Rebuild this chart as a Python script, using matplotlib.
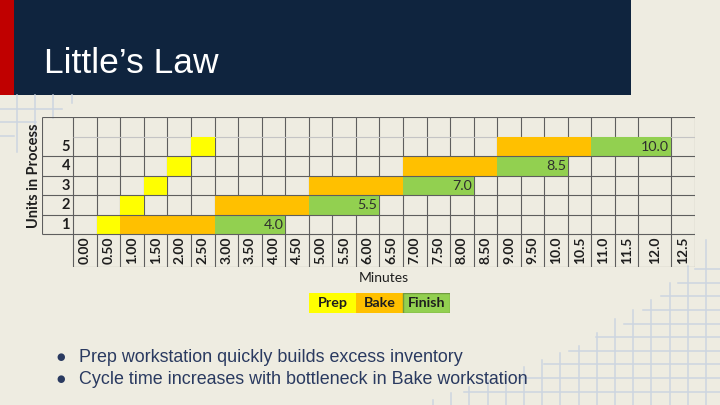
import matplotlib.pyplot as plt
import numpy as np

# chart data
minutes = ["0.00", "0.50", "1.00", "1.50", "2.00", "2.50", "3.00", "3.50", "4.00",
           "4.50", "5.00", "5.50", "6.00", "6.50", "7.00", "7.50", "8.00", "8.50",
           "9.00", "9.50", "10.0", "10.5", "11.0", "11.5", "12.0", "12.5"]
units = [1, 2, 3, 4, 5]
prep_start = [0.5, 1.0, 1.5, 2.0, 2.5]
prep_end = [1.0, 1.5, 2.0, 2.5, 3.0]
bake_start = [1.0, 3.0, 5.0, 7.0, 9.0]
finish_start = [3.0, 5.0, 7.0, 9.0, 11.0]
finish_end = [4.5, 6.5, 8.5, 10.5, 12.5]
cycle_time = [4.0, 5.5, 7.0, 8.5, 10.0]
stages = ["Prep", "Bake", "Finish"]
bullets = ["Prep workstation quickly builds excess inventory",
           "Cycle time increases with bottleneck in Bake workstation"]

BG = '#EEECE1'
NAVY = '#0F243E'
DECO = '#CDD5E0'
GRID = '#5e5e5e'
colors = {'Prep': '#FFFF00', 'Bake': '#FFC000', 'Finish': '#92D050'}
TFONT = 'Lato'

W, H = 720, 405
fig = plt.figure(figsize=(7.2, 4.05), dpi=100, facecolor=BG)

# background layer in pixel units: title band and decoration
bg = fig.add_axes([0, 0, 1, 1], zorder=0)
bg.set_xlim(0, W)
bg.set_ylim(H, 0)
bg.axis('off')
bg.add_patch(plt.Rectangle((0, 0), 14, 95, color='#C00000', lw=0))
bg.add_patch(plt.Rectangle((14, 0), 617, 95, color=NAVY, lw=0))

# top-left grid decoration
for x, y1 in [(16.7, 152), (35, 140), (53, 118), (71.7, 103)]:
    bg.plot([x, x], [95, y1], color=DECO, lw=1.1)
for y, x1 in [(109, 62), (121.5, 36), (135.5, 14)]:
    bg.plot([0, x1], [y, y], color=DECO, lw=1.1)

# bottom-right grid decoration (stepped edge)
vx = [433, 452, 506, 542, 577, 614, 651, 687, 706, 725]
vy = [400, 393, 373, 360, 347, 320, 300, 267, 240, 225]
for x in np.arange(706, 425, -18.2):
    top = np.interp(x, vx, vy)
    bg.plot([x, x], [top, H], color=DECO, lw=1.1)
hy = [255, 268, 296, 323, 349, 377, 392, 405]
hx = [712, 697, 662, 625, 573, 520, 463, 440]
for y in np.arange(391.7, 260, -13.6):
    x0 = np.interp(y, hy, hx)
    bg.plot([x0, W], [y, y], color=DECO, lw=1.1)

fig.text(44 / W, 1 - 73 / H, "Little\u2019s Law", color='white', fontsize=25.5,
         family='Liberation Sans', va='baseline', ha='left')

# table chart
col_w = np.ones(len(minutes))
col_w[24] = 1.4
edges = np.concatenate([[0], np.cumsum(col_w)])
num_w = 1.34
x_right = edges[-1]
y_top = 6.5
y_bot = -1.16

left_px, right_px, top_px, bot_px = 41.7, 695, 117.3, 266.7
ax = fig.add_axes([left_px / W, 1 - bot_px / H, (right_px - left_px) / W,
                   (bot_px - top_px) / H], zorder=1)
ax.set_xlim(-num_w, x_right)
ax.set_ylim(y_bot, y_top)
ax.axis('off')
ax.patch.set_alpha(0)


def to_x(m):
    return np.interp(np.asarray(m) / 0.5, np.arange(len(edges)), edges)


for name, s, e in [('Prep', prep_start, prep_end), ('Bake', bake_start, finish_start),
                   ('Finish', finish_start, finish_end)]:
    ax.barh(units, to_x(e) - to_x(s), left=to_x(s), height=1,
            color=colors[name], lw=0, zorder=2)

# grid lines
ax.vlines(edges, y_bot, y_top, color=GRID, lw=0.8, zorder=1)
ax.vlines(-num_w, 0.5, y_top, color=GRID, lw=0.8, zorder=3)
ax.hlines([y_top] + [u - 0.5 for u in units], -num_w, x_right, color=GRID, lw=0.8, zorder=3)
ax.hlines(max(units) + 0.5, 0, x_right, color='#c4c4c4', lw=0.8, zorder=1)
ax.hlines(y_bot, 0, x_right, color=GRID, lw=0.8, zorder=3)

for u in units:
    ax.text(-0.14, u, str(u), ha='right', va='center', fontsize=10.5,
            fontweight='bold', family=TFONT, color='#1e1e1e')

for i, lab in enumerate(minutes):
    ax.text((edges[i] + edges[i + 1]) / 2, (0.5 + y_bot) / 2, lab, rotation=90,
            ha='center', va='center', fontsize=10, fontweight='bold',
            family=TFONT, color='#1e1e1e')

for u, fe, ct in zip(units, finish_end, cycle_time):
    i = int(round(fe / 0.5)) - 1
    ax.text((edges[i] + edges[i + 1]) / 2, u, f"{ct:.1f}", ha='center', va='center',
            fontsize=10.3, family=TFONT, color='#2e2e2e', zorder=4)

ax.text(-num_w - 0.33, 3.5, "Units in Process", rotation=90, ha='center',
        va='center', fontsize=10.5, fontweight='bold', family=TFONT,
        color='#1e1e1e', clip_on=False)
ax.text(x_right / 2, -1.74, "Minutes", ha='center', va='center', fontsize=10,
        family=TFONT, color='#1e1e1e', clip_on=False)

# legend strip
lg = fig.add_axes([309 / W, 1 - 313 / H, 141 / W, 20 / H], zorder=1)
lg.set_xlim(0, len(stages))
lg.set_ylim(0, 1)
lg.axis('off')
lg.bar(np.arange(len(stages)), 1, width=1, align='edge',
       color=[colors[s] for s in stages], lw=0)
lg.bar([2], 1, width=1, align='edge', color='none', edgecolor='#6f9a3e', lw=1)
for i, s in enumerate(stages):
    lg.text(i + 0.5, 0.5, s, ha='center', va='center', fontsize=10.3,
            fontweight='bold', family=TFONT, color='#1e1e1e')

# bullets
for k, t in enumerate(bullets):
    yb = 362 + 22 * k
    fig.text(61 / W, 1 - (yb - 5) / H, "\u25cf", fontsize=7, color='#2A3A60',
             ha='center', va='center', family='DejaVu Sans')
    fig.text(79 / W, 1 - yb / H, t, fontsize=12.9, color='#2A3A60',
             family='Liberation Sans', ha='left', va='baseline')

fig.savefig('out.png', dpi=100, facecolor=BG)
